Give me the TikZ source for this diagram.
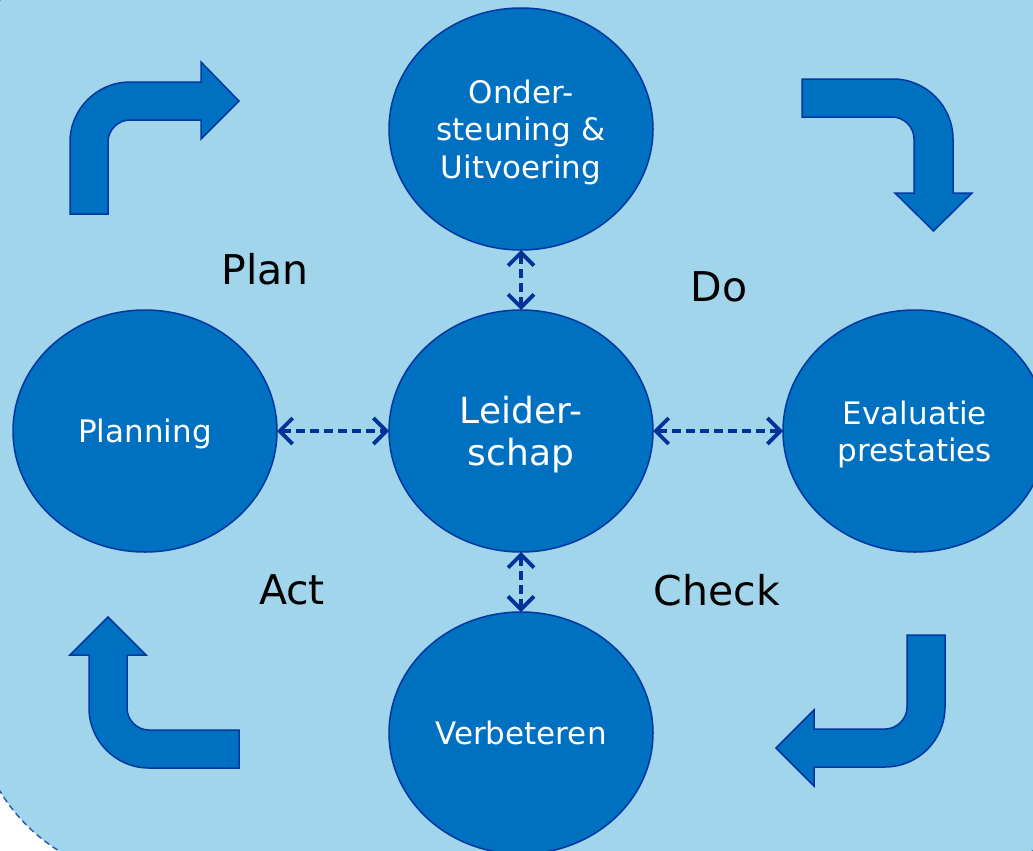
\documentclass[tikz,border=0pt]{standalone}
\usepackage{fontspec}
\setmainfont{DejaVu Sans}
\usetikzlibrary{shapes.geometric,arrows.meta}
\definecolor{bgblue}{RGB}{160,213,236}
\definecolor{circblue}{RGB}{0,112,192}
\definecolor{edgeblue}{RGB}{0,56,160}
\definecolor{dashblue}{RGB}{0,51,153}
\tikzset{
  phase/.style={ellipse, draw=edgeblue, line width=1.5pt, fill=circblue, text=white,
    minimum width=264pt, minimum height=242pt, inner sep=0pt, outer sep=0pt,
    text depth=0pt, align=center, font=\fontsize{31}{37.5}\selectfont},
  bigphase/.style={phase, font=\fontsize{36}{42}\selectfont},
  cyclelabel/.style={font=\fontsize{41}{48}\selectfont, text=black, inner sep=0pt},
  link/.style={draw=dashblue, line width=3.8pt, dash pattern=on 9pt off 5pt,
    {Straight Barb[length=13pt,width=26pt,line width=3.8pt]}-{Straight Barb[length=13pt,width=26pt,line width=3.8pt]}},
  bentarrow/.style={fill=circblue, draw=edgeblue, line width=1.5pt, line join=miter}
}
\begin{document}
\begin{tikzpicture}[x=1pt,y=-1pt]
\useasboundingbox (0,0) rectangle (1033,851);
\clip (0,0) rectangle (1033,851);
% background panel
\draw[fill=bgblue, draw=dashblue!80, line width=1.5pt, dash pattern=on 6pt off 4pt, rounded corners=180pt]
  (-26,-87) rectangle (1118,878);
% bent arrows
\draw[bentarrow] (70,214) -- (70,142) .. controls (70,109) and (97,82) .. (130,82)
  -- (201,82) -- (201,62) -- (239,101) -- (201,139) -- (201,120) -- (130,120)
  .. controls (118,120) and (108,130) .. (108,142) -- (108,214) -- cycle;
\draw[bentarrow] (802,79) -- (893,79) .. controls (926,79) and (953,106) .. (953,139)
  -- (953,193) -- (972,193) -- (933.5,231) -- (895,193) -- (914,193) -- (914,139)
  .. controls (914,127) and (904,117) .. (892,117) -- (802,117) -- cycle;
\draw[bentarrow] (907,635) -- (945,635) -- (945,707) .. controls (945,740) and (918,767) .. (885,767)
  -- (814,767) -- (814,786) -- (776,748) -- (814,710) -- (814,729) -- (885,729)
  .. controls (897,729) and (907,719) .. (907,707) -- cycle;
\draw[bentarrow] (239,730) -- (149,730) .. controls (137,730) and (127,720) .. (127,708)
  -- (127,655) -- (146,655) -- (108,617) -- (70,655) -- (89,655) -- (89,708)
  .. controls (89,741) and (116,768) .. (149,768) -- (239,768) -- cycle;
% circles
\node[phase] (support) at (521,129) {Onder-\\steuning \&\\Uitvoering};
\node[bigphase] (lead) at (521,431) {Leider-\\schap};
\node[phase] (planning) at (145,431) {Planning};
\node[phase] (eval) at (915,431) {Evaluatie\\prestaties};
\node[phase] (improve) at (521,733) {Verbeteren};
% connectors
\draw[link] (planning.east) -- (lead.west);
\draw[link] (lead.east) -- (eval.west);
\draw[link] (support.south) -- (lead.north);
\draw[link] (lead.south) -- (improve.north);
% cycle labels
\node[cyclelabel] (plan) at (265,269) {Plan};
\node[cyclelabel] (do) at (719,287) {Do};
\node[cyclelabel] (act) at (292,590) {Act};
\node[cyclelabel] (check) at (717,590) {Check};
\end{tikzpicture}
\end{document}
